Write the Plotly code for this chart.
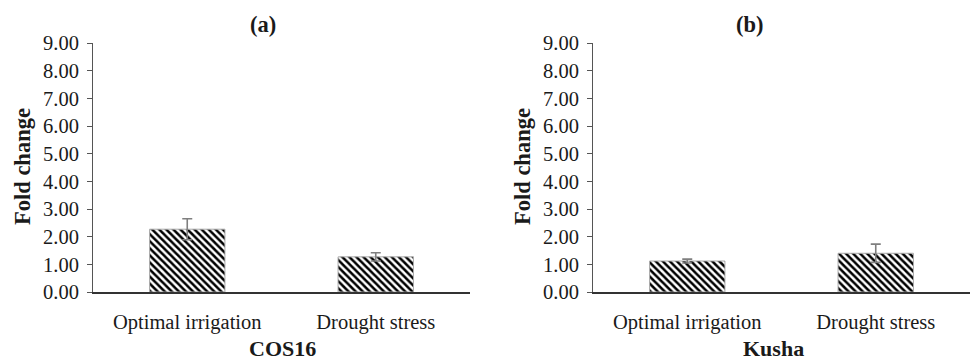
import plotly.graph_objects as go

categories = ["Optimal irrigation", "Drought stress"]
cos16_values = [2.27, 1.27]
cos16_errors = [0.38, 0.15]
kusha_values = [1.12, 1.40]
kusha_errors = [0.07, 0.33]
y_ticks = [0, 1, 2, 3, 4, 5, 6, 7, 8, 9]
panel_labels = ["(a)", "(b)"]
cultivar_labels = ["COS16", "Kusha"]

W, H = 970, 362
FONT = "Liberation Serif"
TXT = "#1a1a1a"

def bar(x, y, err, xa, ya):
    return go.Bar(
        x=x, y=y, xaxis=xa, yaxis=ya, width=0.4,
        marker=dict(color="white",
                    pattern=dict(shape="\\", fgcolor="black", bgcolor="white", size=5, solidity=0.5),
                    line=dict(color="#aaaaaa", width=1)),
        error_y=dict(type="data", array=err, visible=True, color="#7f7f7f", thickness=1.6, width=5),
        showlegend=False, hoverinfo="x+y",
    )

fig = go.Figure()
fig.add_trace(bar(categories, cos16_values, cos16_errors, "x", "y"))
fig.add_trace(bar(categories, kusha_values, kusha_errors, "x2", "y2"))

ydom = [(H - 292) / H, (H - 43) / H]
xd1 = [93 / W, 470 / W]
xd2 = [593 / W, 1.0]

xax = dict(showline=True, linecolor="#333333", linewidth=1.5, ticks="", showgrid=False, automargin=False,
           tickfont=dict(family=FONT, size=20.5, color=TXT), ticklabelstandoff=11, zeroline=False)
yax = dict(range=[0, 9], tickvals=y_ticks, tickformat=".2f", showline=True, linecolor="#555555",
           linewidth=1, ticks="outside", ticklen=5, tickcolor="#555555", showgrid=False, zeroline=False,
           automargin=False, tickfont=dict(family=FONT, size=20.5, color=TXT), ticklabelstandoff=4)

fig.update_layout(
    template="none",
    width=W, height=H, margin=dict(l=0, r=0, t=0, b=0, autoexpand=False),
    paper_bgcolor="white", plot_bgcolor="white",
    xaxis=dict(domain=xd1, anchor="y", **xax),
    yaxis=dict(domain=ydom, anchor="x", **yax),
    xaxis2=dict(domain=xd2, anchor="y2", **xax),
    yaxis2=dict(domain=ydom, anchor="x2", **yax),
    font=dict(family=FONT, color=TXT),
)

ann = []
common = dict(xref="paper", yref="paper", showarrow=False, xanchor="center", yanchor="middle")
for i, (px, cx, yx) in enumerate([(263, 282, 22), (750, 773, 522)]):
    ann.append(dict(text=f"<b>{panel_labels[i]}</b>", x=px / W, y=1 - 24 / H,
                    font=dict(family=FONT, size=22.5, color=TXT), **common))
    ann.append(dict(text=f"<b>{cultivar_labels[i]}</b>", x=cx / W, y=1 - 348 / H,
                    font=dict(family=FONT, size=22, color=TXT), **common))
    ann.append(dict(text="<b>Fold change</b>", x=yx / W, y=1 - 167 / H, textangle=-90,
                    font=dict(family=FONT, size=22.5, color=TXT), **common))
fig.update_layout(annotations=ann)

fig.write_html("out.html", config={"displayModeBar": False},
               post_script="document.body.style.margin='0';document.body.style.overflow='hidden';")
